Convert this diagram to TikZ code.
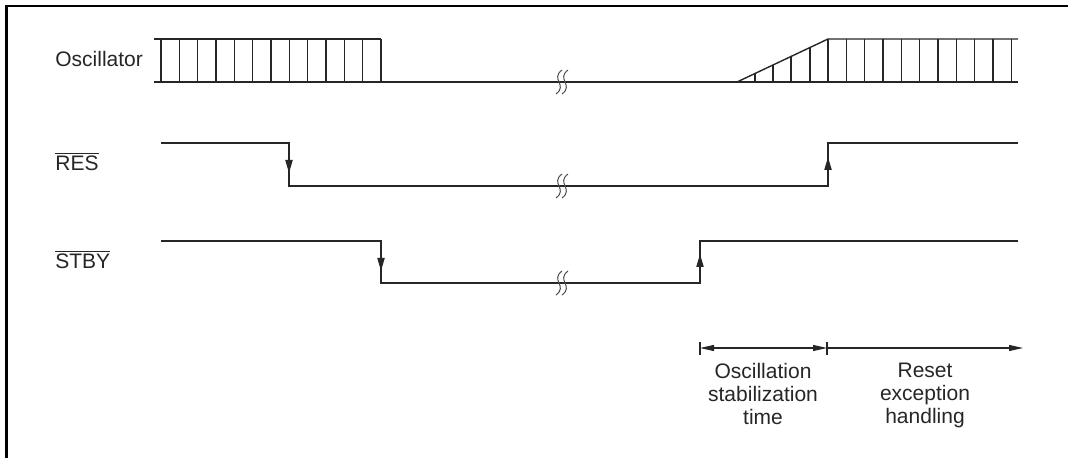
\documentclass[tikz,border=0pt]{standalone}
\usepackage{fontspec}
\setmainfont{Liberation Sans}
\usetikzlibrary{arrows.meta}
\tikzset{
  wave/.style={black!85, line width=0.7pt},
  edgetip/.style={-{Stealth[length=6.5pt,width=3.6pt,inset=0pt]}, black!85, line width=0.7pt},
  dimtip/.tip={Stealth[length=7pt,width=3pt,inset=0pt]},
  dimline/.style={black!85, line width=0.55pt},
  sigtext/.style={font=\fontsize{10.5}{11.5}\selectfont, text=black!85, inner sep=0pt},
  brk/.style={black!70, line width=0.5pt}
}
\newcommand{\breakmark}[2]{%
  \foreach \dx in {-3,3}
    \draw[brk] ({#1+\dx+3},{#2-12}) .. controls ({#1+\dx-9},{#2-3}) and ({#1+\dx+9},{#2+3}) .. ({#1+\dx-3},{#2+12});}
\begin{document}
\begin{tikzpicture}[x=0.5pt,y=-0.5pt]
  \useasboundingbox (0,0) rectangle (1068,458);

  % Frame (top and left only)
  \draw[black, line width=1.1pt] (6.5,458) -- (6.5,6) -- (1068,6);

  % Signal names
  \node[sigtext, anchor=base west] (osc) at (55,67) {Oscillator};
  \node[sigtext, anchor=base west] (res) at (55,171) {$\overline{\hbox{RES}}$};
  \node[sigtext, anchor=base west] (stby) at (55,269) {$\overline{\hbox{STBY}}$};

  % Oscillator: running, stopped, ramp up, running
  \draw[wave] (154,39) -- (381,39);
  \foreach \i in {0,...,12}
    \draw[wave] ({161+18.33*\i},39) -- ++(0,43);
  \draw[wave] (154,82) -- (1018,82);
  \draw[wave] (737,82) -- (828,39) -- (1018,39);
  \foreach \x in {755,773,791,810}
    \draw[wave] (\x,82) -- (\x,{82-(\x-737)*43/91});
  \foreach \i in {0,...,10}
    \draw[wave] ({828+18.33*\i},39) -- ++(0,43);
  \breakmark{562}{82}

  % RES
  \draw[wave] (161,143) -- (289,143) -- (289,186) -- (828,186) -- (828,143) -- (1018,143);
  \draw[edgetip] (289,150) -- (289,173);
  \draw[edgetip] (828,180) -- (828,157);
  \breakmark{562}{186}

  % STBY
  \draw[wave] (161,241) -- (381,241) -- (381,283) -- (700,283) -- (700,241) -- (1018,241);
  \draw[edgetip] (381,248) -- (381,271);
  \draw[edgetip] (700,277) -- (700,254);
  \breakmark{562}{283}

  % Timing intervals
  \coordinate (t0) at (700,348);
  \coordinate (t1) at (827,348);
  \coordinate (t2) at (1023,348);
  \draw[dimline] (700,342) -- (700,355);
  \draw[dimline] (827,342) -- (827,355);
  \draw[dimline, dimtip-dimtip] (t0) -- (t1);
  \draw[dimline, -dimtip] (t1) -- (t2);
  \node[sigtext, align=center, anchor=north] (stabtime) at (763,363) {Oscillation\\stabilization\\time};
  \node[sigtext, align=center, anchor=north] (resethdl) at (925,363) {Reset\\exception\\handling};
\end{tikzpicture}
\end{document}
